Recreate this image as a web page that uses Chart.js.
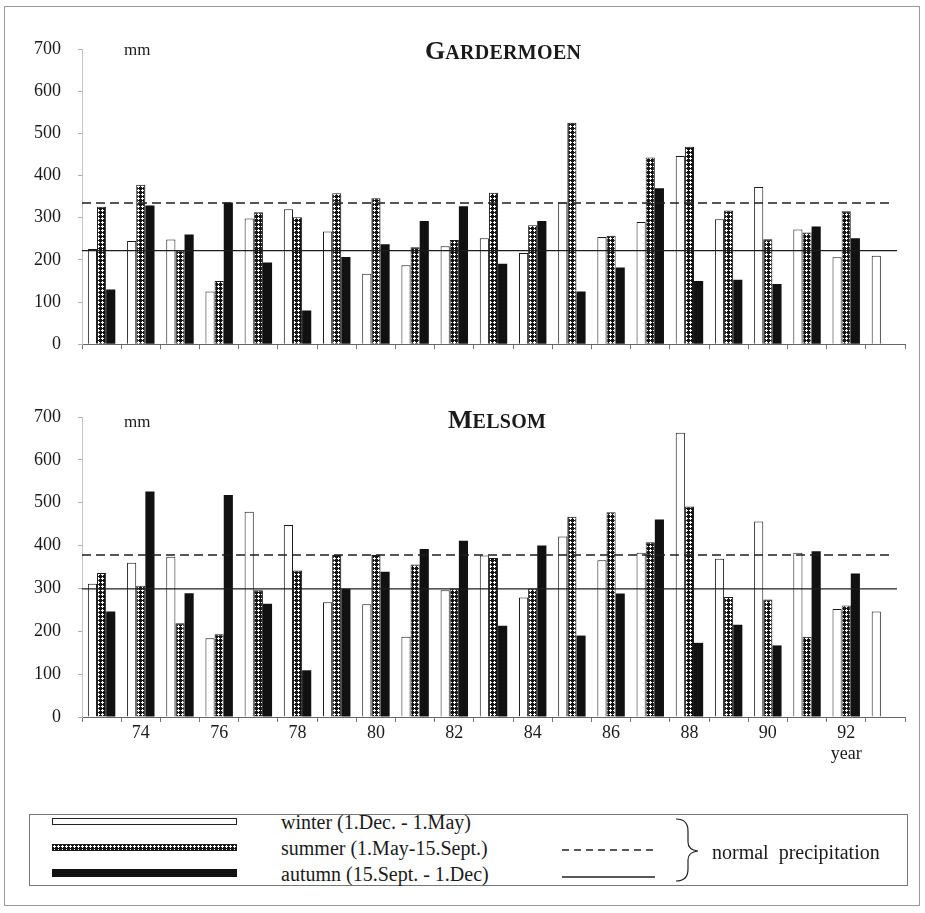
<!DOCTYPE html>
<html>
<head>
<meta charset="utf-8">
<script src="https://cdn.jsdelivr.net/npm/chart.js@4.4.1/dist/chart.umd.min.js"></script>
<style>
  html, body { margin: 0; padding: 0; background: #fff; }
  #page { position: relative; width: 925px; height: 913px; background: #fff; overflow: hidden;
          font-family: "Liberation Serif", "Times New Roman", serif; color: #1a1a1a; }
  #frame { position: absolute; left: 4px; top: 6px; width: 914px; height: 898px; border: 1px solid #9a9a9a; }
  canvas.panel { position: absolute; left: 0; }
  .title { position: absolute; font-weight: bold; white-space: nowrap; line-height: 1; }
  .title .big { font-size: 26px; }
  .title .sc { font-size: 20px; letter-spacing: 0.3px; }
  .unit { position: absolute; font-size: 17px; line-height: 1; }
  #legend { position: absolute; left: 29px; top: 814px; width: 877px; height: 70px; border: 1px solid #777; }
  .sw { position: absolute; left: 52px; width: 185px; box-sizing: border-box; }
  .lt { position: absolute; left: 281px; font-size: 20px; line-height: 1; white-space: nowrap; }
</style>
</head>
<body>
<div id="page">
  <div id="frame"></div>
  <canvas id="cTop" class="panel" width="925" height="372" style="top:0px"></canvas>
  <canvas id="cBot" class="panel" width="925" height="405" style="top:372px"></canvas>

  <div class="title" style="left:425px; top:38px;"><span class="big">G</span><span class="sc">ARDERMOEN</span></div>
  <div class="title" style="left:448px; top:407px;"><span class="big">M</span><span class="sc">ELSOM</span></div>
  <div class="unit" style="left:124px; top:41px;">mm</div>
  <div class="unit" style="left:124px; top:413px;">mm</div>

  <div id="legend"></div>
  <div class="sw" style="top:818px; height:7px; border:1px solid #222; background:#fff;"></div>
  <canvas id="swSummer" class="sw" width="185" height="7" style="top:844px; height:7px;"></canvas>
  <div class="sw" style="top:869px; height:8px; background:#111;"></div>
  <div class="lt" style="top:812px;">winter (1.Dec. - 1.May)</div>
  <div class="lt" style="top:838px;">summer (1.May-15.Sept.)</div>
  <div class="lt" style="top:864px;">autumn (15.Sept. - 1.Dec)</div>
  <svg style="position:absolute; left:0; top:0;" width="925" height="913">
    <line x1="562" y1="850" x2="655" y2="850" stroke="#222" stroke-width="1.3" stroke-dasharray="7,5"/>
    <line x1="562" y1="877" x2="655" y2="877" stroke="#222" stroke-width="1.3"/>
    <path d="M676,819 Q688,819 688,831 L688,842 Q688,850 698,851 Q688,852 688,860 L688,869 Q688,881 676,881"
          fill="none" stroke="#222" stroke-width="1.2"/>
  </svg>
  <div class="lt" style="left:712px; top:842px; word-spacing:5px;">normal precipitation</div>
</div>

<script>
// Seasonal precipitation (mm), hydrological years 1973-1993
const years = [73, 74, 75, 76, 77, 78, 79, 80, 81, 82, 83, 84, 85, 86, 87, 88, 89, 90, 91, 92, 93];
const tickYears = [74, 76, 78, 80, 82, 84, 86, 88, 90, 92];

const gardWinter = [226, 245, 248, 125, 298, 320, 267, 167, 187, 232, 251, 216, 336, 254, 290, 446, 296, 373, 272, 206, 210];
const gardSummer = [326, 378, 222, 150, 313, 301, 358, 346, 230, 247, 359, 282, 525, 257, 443, 468, 317, 249, 265, 315, null];
const gardAutumn = [130, 329, 260, 336, 194, 80, 207, 237, 292, 327, 191, 292, 125, 182, 370, 150, 153, 143, 279, 251, null];
const gardNormalSummer = 335;   // dashed
const gardNormalWinter = 222;   // solid

const melWinter = [311, 360, 374, 184, 479, 448, 268, 263, 187, 296, 377, 279, 421, 366, 383, 663, 369, 456, 383, 252, 246];
const melSummer = [336, 306, 219, 193, 296, 342, 378, 378, 356, 300, 371, 300, 467, 478, 408, 491, 280, 274, 187, 260, null];
const melAutumn = [246, 526, 289, 518, 264, 109, 299, 339, 392, 411, 213, 400, 190, 288, 461, 173, 215, 167, 387, 335, null];
const melNormalSummer = 378;
const melNormalWinter = 299;

const yTicks = { min: 0, max: 700, step: 100 };

// dark cross-hatch with small white diamond holes
function crossHatch(ctx) {
  const c = document.createElement('canvas');
  c.width = 4; c.height = 4;
  const g = c.getContext('2d');
  g.fillStyle = '#161616';
  g.fillRect(0, 0, 4, 4);
  g.fillStyle = '#ffffff';
  [[2, 1], [1, 2], [2, 2], [3, 2], [2, 3]].forEach(([px, py]) => g.fillRect(px, py, 1, 1));
  return ctx.createPattern(c, 'repeat');
}

// Horizontal reference lines for normal precipitation, placed on the value scale
const normalsPlugin = {
  id: 'normals',
  afterDatasetsDraw(chart, args, opts) {
    const { ctx, chartArea } = chart;
    const y = chart.scales.y;
    const x0 = chartArea.left, x1 = chartArea.right - opts.trim;
    ctx.save();
    ctx.strokeStyle = '#1e1e1e';
    ctx.lineWidth = 1.4;
    ctx.setLineDash([9, 5]);
    let py = y.getPixelForValue(opts.dashed);
    ctx.beginPath(); ctx.moveTo(x0, py); ctx.lineTo(x1 - 4, py); ctx.stroke();
    ctx.setLineDash([]);
    ctx.lineWidth = 1.2;
    py = y.getPixelForValue(opts.solid);
    ctx.beginPath(); ctx.moveTo(x0, py); ctx.lineTo(x1, py); ctx.stroke();
    ctx.restore();
  }
};

const serif = '"Liberation Serif", "Times New Roman", serif';

function makePanel(id, winter, summer, autumn, dashed, solid, showLabels, padTop, xHeight) {
  const canvas = document.getElementById(id);
  const ctx = canvas.getContext('2d');
  return new Chart(ctx, {
    type: 'bar',
    data: {
      labels: years.map(String),
      datasets: [
        { label: 'winter', data: winter, backgroundColor: '#ffffff', borderColor: '#1a1a1a', borderWidth: 1 },
        { label: 'summer', data: summer, backgroundColor: crossHatch(ctx), borderColor: '#1a1a1a', borderWidth: 1 },
        { label: 'autumn', data: autumn, backgroundColor: '#111111', borderColor: '#111111', borderWidth: 0 }
      ]
    },
    options: {
      responsive: false,
      animation: false,
      devicePixelRatio: 1,
      layout: { padding: { top: padTop, left: 0, right: 20, bottom: 0 } },
      datasets: { bar: { categoryPercentage: 0.70, barPercentage: 1.0, borderSkipped: 'start' } },
      plugins: {
        legend: { display: false },
        title: { display: false },
        tooltip: { enabled: false },
        normals: { dashed: dashed, solid: solid, trim: 8 }
      },
      scales: {
        x: {
          offset: true,
          grid: { display: true, drawOnChartArea: false, offset: true, tickLength: 5, color: '#777', lineWidth: 1 },
          border: { display: true, color: '#666', width: 1 },
          ticks: {
            display: showLabels,
            autoSkip: false,
            maxRotation: 0,
            padding: 0,
            color: '#1a1a1a',
            font: { family: serif, size: 18 },
            callback: function (value, index) {
              const yr = years[index];
              if (!tickYears.includes(yr)) return '';
              return yr === 92 ? [String(yr), 'year'] : String(yr);
            }
          },
          afterFit: (s) => { s.height = xHeight; }
        },
        y: {
          min: yTicks.min,
          max: yTicks.max,
          grid: { display: true, drawOnChartArea: false, tickLength: 4, color: '#aaa' },
          border: { display: true, color: '#c4c4c4', width: 1 },
          ticks: {
            stepSize: yTicks.step,
            padding: 17,
            color: '#1a1a1a',
            font: { family: serif, size: 18 }
          },
          afterFit: (s) => { s.width = 82; }
        }
      }
    },
    plugins: [normalsPlugin]
  });
}

makePanel('cTop', gardWinter, gardSummer, gardAutumn, gardNormalSummer, gardNormalWinter, false, 49, 15);
makePanel('cBot', melWinter, melSummer, melAutumn, melNormalSummer, melNormalWinter, true, 45, 60);

// legend swatch for the summer series uses the same fill
const sw = document.getElementById('swSummer').getContext('2d');
sw.fillStyle = crossHatch(sw);
sw.fillRect(0, 0, 185, 7);
sw.strokeStyle = '#1a1a1a';
sw.strokeRect(0.5, 0.5, 184, 6);
</script>
</body>
</html>
